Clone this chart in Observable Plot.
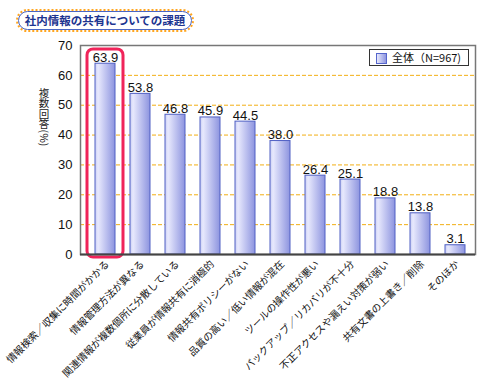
<!DOCTYPE html>
<html>
<head>
<meta charset="utf-8">
<script src="https://cdn.jsdelivr.net/npm/d3@7"></script>
<script src="https://cdn.jsdelivr.net/npm/@observablehq/plot@0.6"></script>
<style>
  html, body { margin: 0; padding: 0; background: #fff; }
  #wrap { position: relative; width: 485px; height: 385px; overflow: hidden; font-family: "Noto Sans CJK JP", "Liberation Sans", sans-serif; }
  #title-outer { position: absolute; left: 16px; top: 9px; width: 178px; height: 23px; border: 2px dotted #ffa51f; border-radius: 13px; box-sizing: border-box; }
  #title { position: absolute; left: 18px; top: 11px; width: 174px; height: 19px; border: 1.3px solid #4a66c4; border-radius: 10px; box-sizing: border-box; background: #fff;
           color: #1d3590; font-size: 11.5px; font-weight: bold; line-height: 16px; text-align: center; white-space: nowrap; }
  #legend { position: absolute; left: 369px; top: 49px; width: 100px; height: 17px; border: 1px solid #333; box-sizing: border-box; background: #fff; font-size: 11px; line-height: 15px; color: #111; }
  #legend .sw { position: absolute; left: 6px; top: 3px; width: 9px; height: 9px; border: 1px solid #5566cc; background: linear-gradient(to right, #e6e8fc, #8f96e0); }
  #legend .lt { position: absolute; left: 22px; top: 0px; white-space: nowrap; }
</style>
</head>
<body>
<div id="wrap">
  <div id="chart"></div>
  <div id="title-outer"></div>
  <div id="title"></div>
  <div id="legend"><div class="sw"></div><div class="lt"></div></div>
</div>
<script>
const titleText = "社内情報の共有についての課題";
const yLabelText = "複数回答(%)";
const seriesName = "全体（N=967)";
const categories = [
  "情報検索／収集に時間がかかる",
  "情報管理方法が異なる",
  "関連情報が複数個所に分散している",
  "従業員が情報共有に消極的",
  "情報共有ポリシーがない",
  "品質の高い／低い情報が混在",
  "ツールの操作性が悪い",
  "バックアップ／リカバリが不十分",
  "不正アクセスや漏えい対策が弱い",
  "共有文書の上書き／削除",
  "そのほか"
];
const values = [63.9, 53.8, 46.8, 45.9, 44.5, 38.0, 26.4, 25.1, 18.8, 13.8, 3.1];
const yTicks = [0, 10, 20, 30, 40, 50, 60, 70];
const highlighted = [categories[0]];

const data = categories.map((c, i) => ({c, v: values[i]}));

document.getElementById("title").textContent = titleText;
document.querySelector("#legend .lt").textContent = seriesName;

const cjk = "'Noto Sans CJK JP', sans-serif";

const chart = Plot.plot({
  width: 485,
  height: 385,
  marginLeft: 80,
  marginRight: 10,
  marginTop: 45,
  marginBottom: 131,
  style: {fontFamily: "'Liberation Sans', Arial, sans-serif", fontSize: "13px", background: "transparent", color: "#111"},
  x: {domain: categories, insetLeft: 7.5, insetRight: 2.5, paddingInner: 15/35, paddingOuter: 7.5/35, axis: null},
  y: {domain: [0, 70], axis: null},
  marks: [
    Plot.gridY(yTicks.filter(t => t > 0 && t < 70), {stroke: "#f2ae14", strokeOpacity: 1, strokeDasharray: "4,2"}),
    Plot.barY(data, {x: "c", y: "v", fill: "url(#barGrad)", stroke: "#5060c4", strokeWidth: 1}),
    Plot.text(data, {x: "c", y: "v", text: d => d.v.toFixed(1), lineAnchor: "bottom", dy: -2, fontSize: 13, fill: "#111"}),
    Plot.barY(highlighted, {x: d => d, y1: -1, y2: 68.7, insetLeft: -8, insetRight: -8, rx: 6, fill: "none", stroke: "#f0245a", strokeWidth: 3}),
    Plot.frame({stroke: "#777", strokeWidth: 1.5}),
    Plot.ruleX([0], {frameAnchor: "left", stroke: "#555", strokeWidth: 2}),
    Plot.ruleY([0], {stroke: "#444", strokeWidth: 2}),
    Plot.axisY({ticks: yTicks, tickSize: 0, tickPadding: 8, fontSize: 13, label: null}),
    Plot.text(data, {x: "c", frameAnchor: "bottom", text: "c", rotate: -45, textAnchor: "end", lineAnchor: "middle", dx: 2, dy: 8, fontSize: 10, fontFamily: cjk, fill: "#111"})
  ]
});

const svg = d3.select(chart);
const defs = svg.insert("defs", ":first-child");
const g = defs.append("linearGradient").attr("id", "barGrad").attr("x1", "0").attr("x2", "1").attr("y1", "0").attr("y2", "0");
g.append("stop").attr("offset", "0%").attr("stop-color", "#c9cdf3");
g.append("stop").attr("offset", "15%").attr("stop-color", "#e8e9fd");
g.append("stop").attr("offset", "100%").attr("stop-color", "#8d94df");

// vertical y-axis label (upright CJK, rotated parentheses)
svg.append("text")
  .attr("x", 44)
  .attr("y", 117)
  .attr("writing-mode", "vertical-rl")
  .style("writing-mode", "vertical-rl")
  .style("text-orientation", "mixed")
  .attr("font-family", cjk)
  .attr("font-size", 10.5)
  .attr("fill", "#222")
  .text(yLabelText);

document.getElementById("chart").appendChild(chart);
</script>
</body>
</html>
